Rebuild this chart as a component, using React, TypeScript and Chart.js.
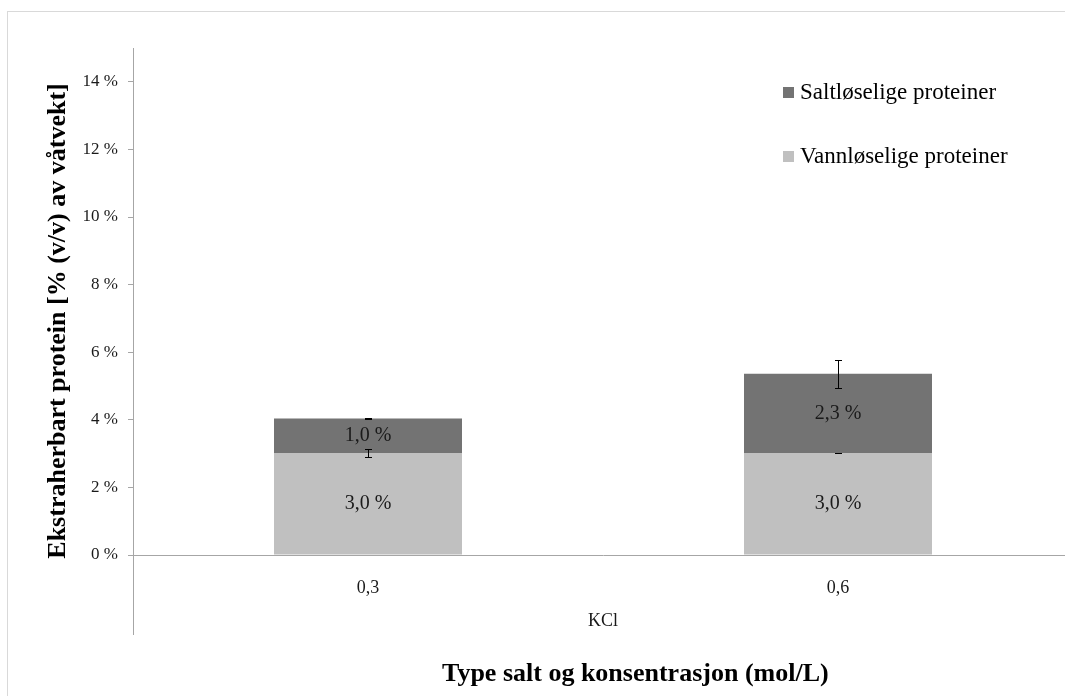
import React, { useEffect, useRef } from "react";
import { Chart, registerables } from "chart.js";

Chart.register(...registerables);

const categories = ["0,3", "0,6"];
const groupLabel = "KCl";
const vannValues = [3.02, 3.02];
const saltValues = [1.02, 2.34];
const vannErrors = [0.13, 0.01];
const saltErrors = [0.02, 0.41];
const yTickValues = [0, 2, 4, 6, 8, 10, 12, 14];
const seriesNames = ["Vannløselige proteiner", "Saltløselige proteiner"];
const seriesColors = ["#c0c0c0", "#737373"];
const yTitle = "Ekstraherbart protein [% (v/v) av våtvekt]";
const xTitle = "Type salt og konsentrasjon (mol/L)";

const SERIF = "'Liberation Serif', 'Times New Roman', serif";
const fmt = (v: number) => v.toFixed(1).replace(".", ",") + " %";

const overlayPlugin = {
  id: "overlay",
  afterDatasetsDraw(chart: any) {
    const ctx = chart.ctx;
    const y = chart.scales.y;
    ctx.save();
    // data labels
    ctx.font = `20px ${SERIF}`;
    ctx.fillStyle = "#1a1a1a";
    ctx.textAlign = "center";
    ctx.textBaseline = "middle";
    [0, 1].forEach((di) => {
      const meta = chart.getDatasetMeta(di);
      const vals = di === 0 ? vannValues : saltValues;
      meta.data.forEach((bar: any, i: number) => {
        ctx.fillText(fmt(vals[i]), bar.x, (bar.y + bar.base) / 2);
      });
    });
    // error bars
    ctx.strokeStyle = "#000";
    ctx.lineWidth = 1;
    [0, 1].forEach((di) => {
      const meta = chart.getDatasetMeta(di);
      const errs = di === 0 ? vannErrors : saltErrors;
      meta.data.forEach((bar: any, i: number) => {
        const top = di === 0 ? vannValues[i] : vannValues[i] + saltValues[i];
        const x = Math.round(bar.x) + 0.5;
        const y1 = Math.round(y.getPixelForValue(top + errs[i])) + 0.5;
        const y2 = Math.round(y.getPixelForValue(top - errs[i])) + 0.5;
        ctx.beginPath();
        ctx.moveTo(x, y1);
        ctx.lineTo(x, y2);
        ctx.moveTo(x - 3.5, y1);
        ctx.lineTo(x + 3.5, y1);
        ctx.moveTo(x - 3.5, y2);
        ctx.lineTo(x + 3.5, y2);
        ctx.stroke();
      });
    });
    ctx.restore();
  },
  afterDraw(chart: any) {
    const ctx = chart.ctx;
    const area = chart.chartArea;
    const xs = chart.scales.x;
    ctx.save();
    // outer border
    ctx.strokeStyle = "#d9d9d9";
    ctx.lineWidth = 1;
    ctx.strokeRect(7.5, 11.5, 2000, 2000);
    // extended y axis line below category axis
    ctx.strokeStyle = "#a6a6a6";
    ctx.beginPath();
    ctx.moveTo(area.left + 0.5, area.bottom);
    ctx.lineTo(area.left + 0.5, area.bottom + 80);
    ctx.stroke();
    // group label
    ctx.fillStyle = "#1a1a1a";
    ctx.font = `18px ${SERIF}`;
    ctx.textAlign = "center";
    ctx.textBaseline = "middle";
    const gx = (xs.getPixelForValue(0) + xs.getPixelForValue(categories.length - 1)) / 2;
    ctx.fillText(groupLabel, gx, area.bottom + 66);
    // x title
    ctx.fillStyle = "#000";
    ctx.font = `bold 26px ${SERIF}`;
    ctx.textAlign = "left";
    ctx.fillText(xTitle, 442, area.bottom + 119);
    // y title
    ctx.save();
    ctx.translate(58, 321);
    ctx.rotate(-Math.PI / 2);
    ctx.textAlign = "center";
    ctx.font = `bold 26px ${SERIF}`;
    ctx.fillText(yTitle, 0, 0);
    ctx.restore();
    // legend (reversed order)
    ctx.font = `23px ${SERIF}`;
    ctx.textAlign = "left";
    const lx = area.left + 650;
    [1, 0].forEach((di, k) => {
      const ly = area.top + 45 + k * 64;
      ctx.fillStyle = seriesColors[di];
      ctx.fillRect(lx, ly - 6, 11, 11);
      ctx.fillStyle = "#000";
      ctx.fillText(seriesNames[di], lx + 17, ly);
    });
    ctx.restore();
  },
};

export default function App() {
  const ref = useRef<HTMLCanvasElement>(null);
  useEffect(() => {
    if (!ref.current) return;
    const chart = new Chart(ref.current, {
      type: "bar",
      data: {
        labels: categories,
        datasets: [
          {
            label: seriesNames[0],
            data: vannValues,
            backgroundColor: seriesColors[0],
            barPercentage: 0.4,
            categoryPercentage: 1,
          },
          {
            label: seriesNames[1],
            data: saltValues,
            backgroundColor: seriesColors[1],
            barPercentage: 0.4,
            categoryPercentage: 1,
          },
        ],
      },
      options: {
        responsive: false,
        animation: false,
        layout: { padding: { top: 48, right: 17, left: 0, bottom: 0 } },
        plugins: { legend: { display: false }, tooltip: { enabled: false } },
        scales: {
          x: {
            stacked: true,
            grid: { display: false },
            border: { color: "#a6a6a6", width: 1 },
            ticks: { color: "#1a1a1a", font: { family: SERIF, size: 18 }, padding: 14 },
            afterFit: (s: any) => {
              s.height = 141;
            },
          },
          y: {
            stacked: true,
            min: 0,
            max: 15,
            afterBuildTicks: (s: any) => {
              s.ticks = yTickValues.map((v) => ({ value: v }));
            },
            grid: { drawOnChartArea: false, tickLength: 5, color: "#a6a6a6" },
            border: { color: "#a6a6a6", width: 1 },
            ticks: {
              color: "#1a1a1a",
              font: { family: SERIF, size: 17 },
              padding: 10,
              callback: (v: any) => v + " %",
            },
            afterFit: (s: any) => {
              s.width = 133;
            },
          },
        },
      },
      plugins: [overlayPlugin],
    });
    return () => chart.destroy();
  }, []);
  return (
    <div style={{ position: "fixed", left: 0, top: 0, width: 1065, height: 696, overflow: "hidden", background: "#fff" }}>
      <canvas ref={ref} width={1090} height={696} style={{ display: "block" }} />
    </div>
  );
}
